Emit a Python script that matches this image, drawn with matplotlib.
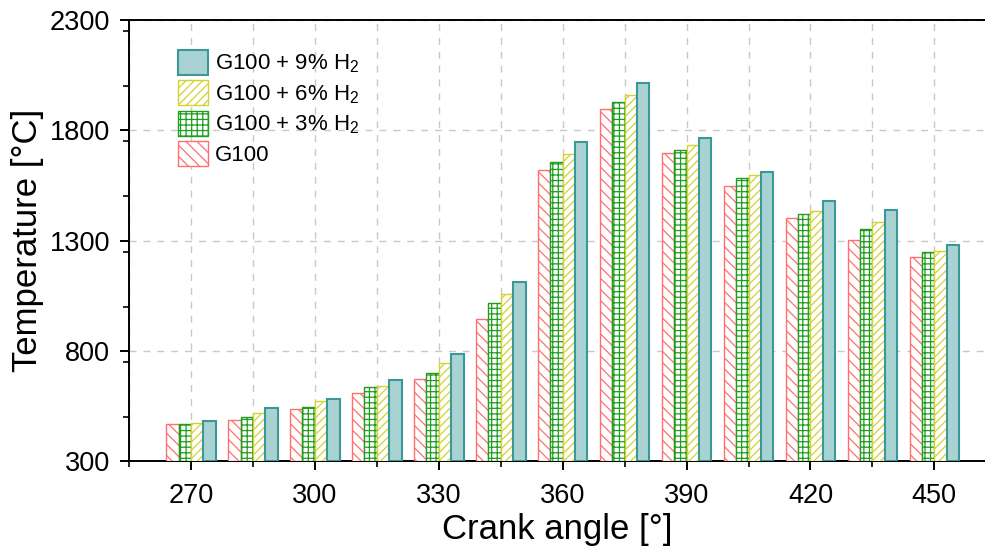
import matplotlib
matplotlib.use("Agg")
import matplotlib.pyplot as plt
import numpy as np
from matplotlib.ticker import MultipleLocator

plt.rcParams['font.family'] = ['Liberation Sans', 'DejaVu Sans']
plt.rcParams['mathtext.default'] = 'regular'
plt.rcParams['hatch.linewidth'] = 0.9

angles = [270, 285, 300, 315, 330, 345, 360, 375, 390, 405, 420, 435, 450]
g100 = [468, 485, 536, 607, 670, 945, 1618, 1896, 1695, 1549, 1402, 1304, 1225]
h3 = [468, 500, 545, 634, 700, 1015, 1655, 1930, 1712, 1583, 1422, 1351, 1248]
h6 = [474, 516, 571, 640, 746, 1057, 1692, 1960, 1735, 1598, 1432, 1384, 1254]
h9 = [481, 539, 581, 667, 784, 1110, 1747, 2016, 1765, 1612, 1481, 1437, 1278]
labels = ['G100', 'G100 + 3% H$_2$', 'G100 + 6% H$_2$', 'G100 + 9% H$_2$']
xticks = [270, 300, 330, 360, 390, 420, 450]
yticks = [300, 800, 1300, 1800, 2300]

fig = plt.figure(figsize=(9.85, 5.51), dpi=100)
ax = fig.add_axes([0.131, 0.1633, 1.0 - 0.131 + 0.001, 0.8004])

x = np.array(angles, dtype=float)
w = 3.0
styles = [
    dict(facecolor='white', edgecolor='#ff6f6f', hatch='\\\\\\', linewidth=1.0),
    dict(facecolor='white', edgecolor='#1e9e1e', hatch='+++', linewidth=1.0),
    dict(facecolor='white', edgecolor='#d2d230', hatch='////', linewidth=1.0),
    dict(facecolor='#a9d3d3', edgecolor='#3a9898', hatch=None, linewidth=1.5),
]
series = [g100, h3, h6, h9]
handles = []
for i, (vals, st) in enumerate(zip(series, styles)):
    off = (i - 1.5) * w
    b = ax.bar(x + off, np.array(vals) - 300, width=w, bottom=300,
               label=labels[i], zorder=3, **st)
    handles.append(b)

ax.set_xlim(255, 462.5)
ax.set_ylim(300, 2300)
ax.set_xticks(xticks)
ax.xaxis.set_minor_locator(MultipleLocator(15))
ax.set_yticks(yticks)
ax.yaxis.set_minor_locator(MultipleLocator(250))

ax.set_axisbelow(True)
ax.grid(which='both', axis='x', color='#c8c8c8', linestyle=(0, (5, 5)), linewidth=1.0)
ax.grid(which='major', axis='y', color='#c8c8c8', linestyle=(0, (5, 5)), linewidth=1.0)

for s in ['left', 'bottom', 'top']:
    ax.spines[s].set_linewidth(1.4)
ax.spines['right'].set_visible(False)

ax.tick_params(which='major', direction='out', length=6.5, width=1.4, labelsize=19.5, pad=7)
ax.tick_params(which='minor', direction='out', length=4, width=1.2)
ax.tick_params(axis='x', which='major', pad=9)

ax.set_xlabel('Crank angle [°]', fontsize=25, labelpad=3)
ax.set_ylabel('Temperature [°C]', fontsize=25, labelpad=4)

leg = ax.legend(handles[::-1], labels[::-1], loc='upper left',
                bbox_to_anchor=(0.0572, 0.932), frameon=False, fontsize=16,
                handlelength=1.35, handleheight=1.35, labelspacing=0.22,
                handletextpad=0.32, borderaxespad=0.0, borderpad=0.0)

fig.savefig('out.png', dpi=100)
